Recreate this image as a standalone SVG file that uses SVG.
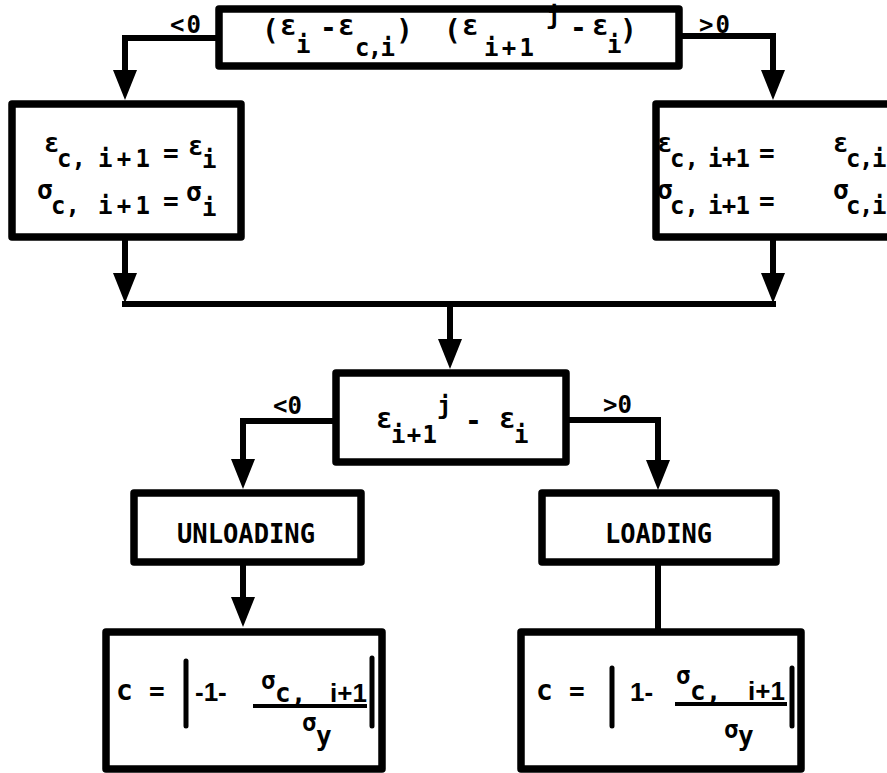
<svg xmlns="http://www.w3.org/2000/svg" width="887" height="773" viewBox="0 0 887 773">
<style>
.box{fill:#fff;stroke:#000;stroke-width:7.5;stroke-linejoin:round}
.ln{fill:none;stroke:#000;stroke-width:6;stroke-linejoin:miter}
.t{font-family:"DejaVu Sans Mono","Liberation Mono",monospace;font-weight:bold;font-size:26px;fill:#000}
.b{font-size:28px}
.s{font-size:24px}
.p{font-family:"Liberation Sans",Arial,sans-serif;font-weight:bold}
.lab{font-family:"DejaVu Sans Mono","Liberation Mono",monospace;font-weight:bold;font-size:24px;fill:#000}
.bar{stroke:#000;stroke-width:5;stroke-linecap:round}
.frac{stroke:#000;stroke-width:4}
</style>
<defs>
<marker id="ah" markerUnits="userSpaceOnUse" markerWidth="30" markerHeight="24" refX="20" refY="12" orient="auto">
<path d="M0,0 L30,12 L0,24 Z" fill="#000"/>
</marker>
</defs>
<g id="connectors">
<path class="ln" d="M219 38 H125 V90" marker-end="url(#ah)"/>
<path class="ln" d="M679 36 H773 V90" marker-end="url(#ah)"/>
<path class="ln" d="M125 237 V293" marker-end="url(#ah)"/>
<path class="ln" d="M773 237 V293" marker-end="url(#ah)"/>
<path class="ln" d="M122 304 H776"/>
<path class="ln" d="M450 304 V359" marker-end="url(#ah)"/>
<path class="ln" d="M336 421 H243 V479" marker-end="url(#ah)"/>
<path class="ln" d="M566 420 H658 V480" marker-end="url(#ah)"/>
<path class="ln" d="M243 562 V617" marker-end="url(#ah)"/>
<path class="ln" d="M658 562 V632"/>
<text class="lab" x="170" y="33" textLength="31">&lt;0</text>
<text class="lab" x="699" y="33" textLength="31">&gt;0</text>
<text class="lab" x="273" y="414" textLength="29">&lt;0</text>
<text class="lab" x="603" y="413" textLength="29">&gt;0</text>
</g>
<g id="test1">
<rect class="box" x="219" y="9" width="460" height="57"/>
<text class="t b">
<tspan x="262" y="40">(</tspan><tspan x="280" y="35">ε</tspan><tspan class="s" x="296" y="53">i</tspan>
<tspan x="320" y="37">-</tspan><tspan x="338" y="35">ε</tspan><tspan class="s" x="355" y="56" textLength="40">c,i</tspan>
<tspan x="396" y="40">)</tspan>
<tspan x="444" y="40">(</tspan><tspan x="462" y="35">ε</tspan><tspan class="s" x="484" y="56" textLength="50">i+1</tspan>
<tspan class="s" x="546" y="24">j</tspan>
<tspan x="570" y="37">-</tspan><tspan x="592" y="35">ε</tspan><tspan class="s" x="607" y="53">i</tspan>
<tspan x="620" y="40">)</tspan>
</text>
</g>
<g id="update-left">
<rect class="box" x="12" y="104" width="229" height="133"/>
<text class="t">
<tspan x="44" y="152">ε</tspan><tspan class="s" x="57" y="167">c,</tspan><tspan class="s" x="98" y="167" textLength="52">i+1</tspan>
<tspan x="163" y="162">=</tspan><tspan x="188" y="155">ε</tspan><tspan class="s" x="202" y="168">i</tspan>
</text>
<text class="t">
<tspan x="37" y="199">σ</tspan><tspan class="s" x="51" y="214">c,</tspan><tspan class="s" x="98" y="214" textLength="52">i+1</tspan>
<tspan x="163" y="210">=</tspan><tspan x="186" y="201">σ</tspan><tspan class="s" x="202" y="216">i</tspan>
</text>
</g>
<g id="update-right">
<rect class="box" x="656" y="104" width="250" height="133"/>
<text class="t">
<tspan x="657" y="152">ε</tspan><tspan class="s" x="670" y="167">c,</tspan><tspan class="s" x="708" y="167" textLength="42">i+1</tspan>
<tspan x="759" y="162">=</tspan><tspan x="833" y="152">ε</tspan><tspan class="s" x="846" y="167">c</tspan><tspan class="s" x="859" y="167">,</tspan><tspan class="s" x="872" y="167">i</tspan>
</text>
<text class="t">
<tspan x="657" y="199">σ</tspan><tspan class="s" x="670" y="214">c,</tspan><tspan class="s" x="708" y="214" textLength="42">i+1</tspan>
<tspan x="759" y="210">=</tspan><tspan x="833" y="199">σ</tspan><tspan class="s" x="846" y="214">c</tspan><tspan class="s" x="859" y="214">,</tspan><tspan class="s" x="872" y="214">i</tspan>
</text>
</g>
<g id="test2">
<rect class="box" x="336" y="373" width="230" height="89"/>
<text class="t b">
<tspan x="376" y="428">ε</tspan><tspan class="s" x="391" y="443" textLength="46">i+1</tspan>
<tspan class="s" x="437" y="414">j</tspan>
<tspan x="465" y="430">-</tspan><tspan x="499" y="428">ε</tspan><tspan class="s" x="514" y="443">i</tspan>
</text>
</g>
<g id="unloading">
<rect class="box" x="134" y="493" width="227" height="69"/>
<text class="t" x="177" y="543" font-size="27" textLength="138" lengthAdjust="spacingAndGlyphs">UNLOADING</text>
</g>
<g id="loading">
<rect class="box" x="542" y="493" width="234" height="69"/>
<text class="t" x="605" y="543" font-size="27" textLength="107" lengthAdjust="spacingAndGlyphs">LOADING</text>
</g>
<g id="c-unloading">
<rect class="box" x="106" y="632" width="276" height="137"/>
<text class="t b" x="116" y="700">c</text>
<text class="t" x="149" y="700">=</text>
<line class="bar" x1="186" y1="661" x2="186" y2="726"/>
<text class="t p" x="195" y="701">-1-</text>
<text class="t">
<tspan class="s" x="261" y="689">σ</tspan><tspan x="275" y="702">c,</tspan><tspan class="p" x="330" y="702">i+1</tspan>
</text>
<line class="frac" x1="253" y1="706" x2="367" y2="706"/>
<text class="t"><tspan class="s" x="302" y="731">σ</tspan><tspan x="316" y="745">y</tspan></text>
<line class="bar" x1="372" y1="658" x2="372" y2="726"/>
</g>
<g id="c-loading">
<rect class="box" x="521" y="632" width="280" height="137"/>
<text class="t b" x="536" y="700">c</text>
<text class="t" x="569" y="700">=</text>
<line class="bar" x1="612" y1="668" x2="612" y2="726"/>
<text class="t p" x="630" y="701">1-</text>
<text class="t">
<tspan class="s" x="676" y="684">σ</tspan><tspan x="690" y="700">c,</tspan><tspan class="p" x="748" y="700">i+1</tspan>
</text>
<line class="frac" x1="675" y1="704" x2="787" y2="704"/>
<text class="t"><tspan class="s" x="724" y="738">σ</tspan><tspan x="738" y="745">y</tspan></text>
<line class="bar" x1="792" y1="668" x2="792" y2="726"/>
</g>
</svg>
